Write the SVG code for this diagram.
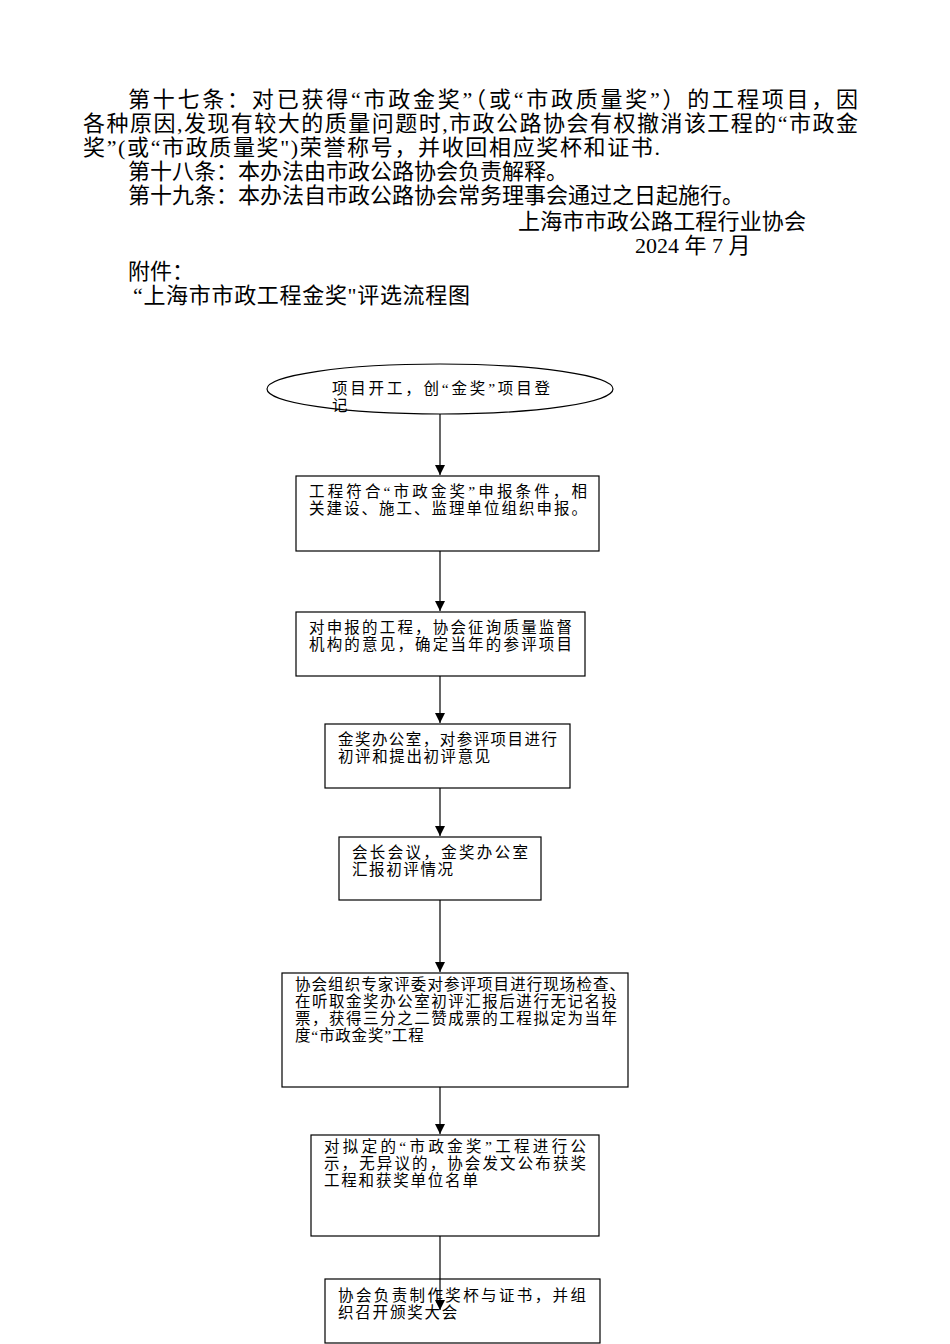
<svg xmlns="http://www.w3.org/2000/svg" width="950" height="1344" viewBox="0 0 950 1344">
<style>
.h{font-family:"Liberation Serif","Noto Sans CJK SC",serif;font-size:22px;fill:#000}
.n{font-family:"Liberation Serif","Noto Sans CJK SC",sans-serif;font-size:15.5px;fill:#000}
.box{fill:#fff;stroke:#000;stroke-width:1.2}
.c{stroke:#000;stroke-width:1.2;fill:none}
</style>
<defs>
<marker id="arr" markerWidth="10" markerHeight="11" refX="10" refY="5" orient="auto" markerUnits="userSpaceOnUse">
<path d="M0,0 L10,5 L0,10 Z" fill="#000"/>
</marker>
</defs>
<rect width="950" height="1344" fill="#fff"/>
<g id="header">
<text class="h" x="128" y="107" textLength="730" lengthAdjust="spacing">第十七条：对已获得“市政金奖”（或“市政质量奖”）的工程项目，因</text>
<text class="h" x="83" y="131" textLength="775" lengthAdjust="spacing">各种原因,发现有较大的质量问题时,市政公路协会有权撤消该工程的“市政金</text>
<text class="h" x="83" y="155" textLength="577" lengthAdjust="spacing">奖”(或“市政质量奖")荣誉称号，并收回相应奖杯和证书.</text>
<text class="h" x="128" y="179">第十八条：本办法由市政公路协会负责解释。</text>
<text class="h" x="128" y="203">第十九条：本办法自市政公路协会常务理事会通过之日起施行。</text>
<text class="h" x="518" y="229" textLength="288" lengthAdjust="spacing">上海市市政公路工程行业协会</text>
<text class="h" x="635" y="253">2024 年 7 月</text>
<text class="h" x="128" y="279">附件：</text>
<text class="h" x="133" y="303" textLength="337" lengthAdjust="spacing">“上海市市政工程金奖"评选流程图</text>
</g>
<g id="connectors">
<line class="c" x1="440" y1="414" x2="440" y2="475" marker-end="url(#arr)"/>
<line class="c" x1="440" y1="551" x2="440" y2="611" marker-end="url(#arr)"/>
<line class="c" x1="440" y1="676" x2="440" y2="723" marker-end="url(#arr)"/>
<line class="c" x1="440" y1="788" x2="440" y2="836" marker-end="url(#arr)"/>
<line class="c" x1="440" y1="900" x2="440" y2="972" marker-end="url(#arr)"/>
<line class="c" x1="440" y1="1087" x2="440" y2="1134" marker-end="url(#arr)"/>
</g>
<g id="n1">
<ellipse class="box" cx="440" cy="389" rx="173" ry="25"/>
<text class="n" x="332" y="394" textLength="218" lengthAdjust="spacing">项目开工，创“金奖”项目登</text>
<text class="n" x="332" y="411">记</text>
</g>
<g id="n2">
<rect class="box" x="296" y="476" width="303" height="75"/>
<text class="n" x="309" y="497" textLength="278" lengthAdjust="spacing">工程符合“市政金奖”申报条件，相</text>
<text class="n" x="309" y="514" textLength="278" lengthAdjust="spacing">关建设、施工、监理单位组织申报。</text>
</g>
<g id="n3">
<rect class="box" x="296" y="612" width="289" height="64"/>
<text class="n" x="309" y="633" textLength="263" lengthAdjust="spacing">对申报的工程，协会征询质量监督</text>
<text class="n" x="309" y="650" textLength="263" lengthAdjust="spacing">机构的意见，确定当年的参评项目</text>
</g>
<g id="n4">
<rect class="box" x="325" y="724" width="245" height="64"/>
<text class="n" x="338" y="745" textLength="219" lengthAdjust="spacing">金奖办公室，对参评项目进行</text>
<text class="n" x="338" y="762" letter-spacing="1.6">初评和提出初评意见</text>
</g>
<g id="n5">
<rect class="box" x="339" y="837" width="202" height="63"/>
<text class="n" x="352" y="858" textLength="176" lengthAdjust="spacing">会长会议，金奖办公室</text>
<text class="n" x="352" y="875" letter-spacing="1.6">汇报初评情况</text>
</g>
<g id="n6">
<rect class="box" x="282" y="973" width="346" height="114"/>
<text class="n" x="295" y="990" textLength="330" lengthAdjust="spacing">协会组织专家评委对参评项目进行现场检查、</text>
<text class="n" x="295" y="1007" textLength="322" lengthAdjust="spacing">在听取金奖办公室初评汇报后进行无记名投</text>
<text class="n" x="295" y="1024" textLength="322" lengthAdjust="spacing">票，获得三分之二赞成票的工程拟定为当年</text>
<text class="n" x="295" y="1041" letter-spacing="0.8">度“市政金奖”工程</text>
</g>
<g id="n7">
<rect class="box" x="311" y="1135" width="288" height="101"/>
<text class="n" x="324" y="1152" textLength="262" lengthAdjust="spacing">对拟定的“市政金奖”工程进行公</text>
<text class="n" x="324" y="1169" textLength="262" lengthAdjust="spacing">示，无异议的，协会发文公布获奖</text>
<text class="n" x="324" y="1186" letter-spacing="1.8">工程和获奖单位名单</text>
</g>
<g id="n8">
<rect class="box" x="325" y="1279" width="275" height="64"/>
<text class="n" x="338" y="1301" textLength="248" lengthAdjust="spacing">协会负责制作奖杯与证书，并组</text>
<text class="n" x="338" y="1318" letter-spacing="1.8">织召开颁奖大会</text>
</g>
<g id="connectors-top">
<line class="c" x1="440" y1="1236" x2="440" y2="1310" marker-end="url(#arr)"/>
</g>
</svg>
